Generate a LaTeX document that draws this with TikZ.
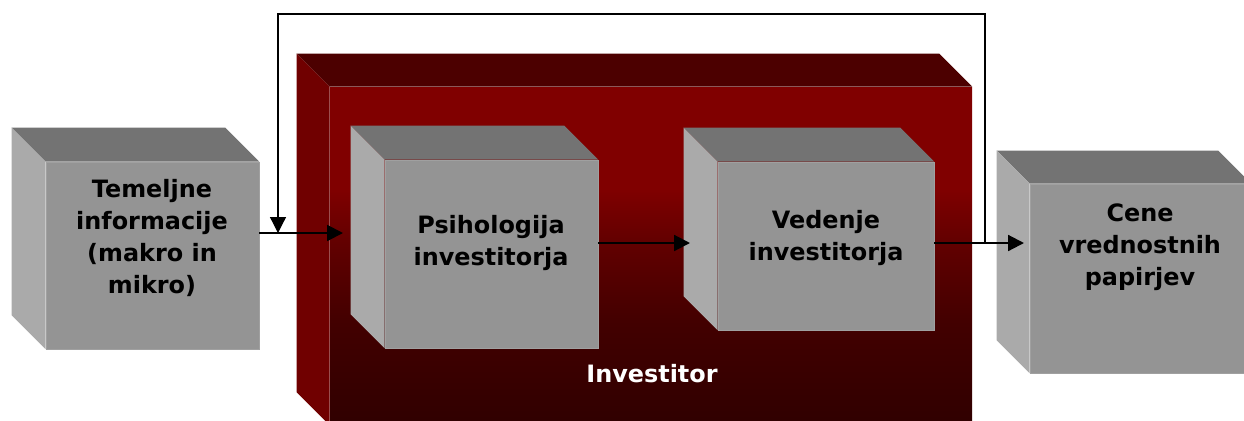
\documentclass[tikz,border=0pt]{standalone}
\usepackage{fontspec}
\setmainfont{DejaVu Sans}
\usetikzlibrary{arrows.meta,calc}
\definecolor{cubeFront}{HTML}{949494}
\definecolor{cubeTop}{HTML}{737373}
\definecolor{cubeSide}{HTML}{AAAAAA}
\definecolor{cubeEdge}{HTML}{A0A0A0}
\definecolor{invRed}{HTML}{800000}
\definecolor{invMid}{HTML}{620000}
\definecolor{invLow}{HTML}{420000}
\definecolor{invDark}{HTML}{300000}
\definecolor{invTop}{HTML}{4C0000}
\definecolor{invSide}{HTML}{700000}
\pgfdeclareverticalshading{invshade}{100bp}{color(0bp)=(invDark); color(25bp)=(invDark);
  color(40bp)=(invLow); color(52bp)=(invMid); color(60bp)=(invRed); color(100bp)=(invRed)}
\tikzset{
  cube front/.style={fill=cubeFront,draw=cubeEdge,line width=0.4pt,inner sep=0pt},
  inv front/.style={shading=invshade,inner sep=0pt,minimum width=128.4mm,minimum height=67.6mm},
  cube text/.style={align=center,font=\fontsize{13.6}{18.3}\selectfont\bfseries},
  inv label/.style={cube text,text=white},
  flow arrow/.style={-{Triangle[length=9pt,width=9pt]},line width=1.2pt},
  back arrow/.style={flow arrow,line width=0.7pt}
}

\begin{document}
\begin{tikzpicture}[x=0.2mm,y=-0.2mm]
\path[use as bounding box,clip] (0,0) rectangle (1244,420);
% investor block
\node[inv front] (inv) at (651,256) {};
\fill[invTop] (inv.north west) -- ++(-33,-33) -- ($(inv.north east)+(-33,-33)$) -- (inv.north east) -- cycle;
\fill[invSide] (inv.north west) -- ++(-33,-33) -- ($(inv.south west)+(-33,-33)$) -- (inv.south west) -- cycle;
\node[inv label] (invlbl) at (652,374) {Investitor};
% grey blocks
\node[cube front,minimum width=42.6mm,minimum height=37.4mm] (tem) at (152.5,255.5) {};
\node[cube front,minimum width=42.6mm,minimum height=37.6mm] (psi) at (491.5,254) {};
\node[cube front,minimum width=43.2mm,minimum height=33.6mm] (ved) at (826,246) {};
\node[cube front,minimum width=44.2mm,minimum height=37.8mm] (cene) at (1140.5,278.5) {};
\foreach \b/\d in {tem/34,psi/34,ved/34,cene/33} {
  \fill[cubeTop] (\b.north west) -- ++(-\d,-\d) -- ($(\b.north east)+(-\d,-\d)$) -- (\b.north east) -- cycle;
  \fill[cubeSide] (\b.north west) -- ++(-\d,-\d) -- ($(\b.south west)+(-\d,-\d)$) -- (\b.south west) -- cycle;
}
\node[cube text] (temtxt) at (152,238) {Temeljne\\informacije\\(makro in\\mikro)};
\node[cube text] (psitxt) at (491,243) {Psihologija\\investitorja};
\node[cube text] (vedtxt) at (826,238) {Vedenje\\investitorja};
\node[cube text] (cenetxt) at (1140,247) {Cene\\vrednostnih\\papirjev};
% arrows
\coordinate (psiin) at (343,233);
\coordinate (vedin) at (690,243);
\coordinate (cenein) at (1024,243);
\coordinate (split) at (985,243);
\coordinate (fbcorner) at (278,14);
\coordinate (fbtip) at (278,233);
\draw[flow arrow] (tem.east |- psiin) -- (psiin);
\draw[flow arrow] (psi.east |- vedin) -- (vedin);
\draw[flow arrow] (ved.east |- cenein) -- (cenein);
\draw[back arrow] (split) |- (fbcorner) -- (fbtip);
\end{tikzpicture}
\end{document}
